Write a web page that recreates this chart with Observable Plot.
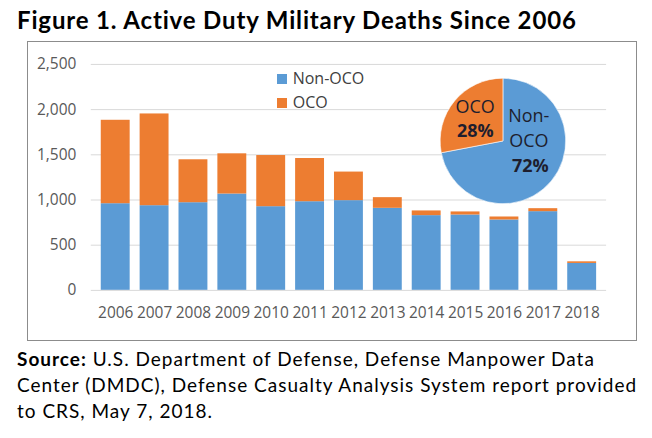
<!DOCTYPE html>
<html><head><meta charset="utf-8">
<script src="https://cdn.jsdelivr.net/npm/d3@7"></script>
<script src="https://cdn.jsdelivr.net/npm/@observablehq/plot@0.6"></script>
<style>
body{margin:0;background:#fff;}
#root{position:relative;width:652px;height:438px;overflow:hidden;}
#title{position:absolute;left:17px;top:8px;font-family:Lato,sans-serif;font-weight:700;font-size:24px;letter-spacing:0.85px;line-height:24px;color:#000;white-space:nowrap;}
#box{position:absolute;left:27px;top:41px;width:610px;height:300px;border:1px solid #8c8c8c;box-sizing:border-box;}
#box svg{position:absolute;left:-1px;top:-1px;}
.leg{position:absolute;font-family:"Open Sans",sans-serif;font-size:16px;color:#404040;line-height:16px;white-space:nowrap;}
.leg i{position:absolute;left:0;top:3px;width:10px;height:10px;}
.leg span{position:absolute;left:16px;top:-1px;}
#source{position:absolute;left:17px;top:346px;font-family:Lato,sans-serif;font-size:19px;letter-spacing:1px;line-height:26px;color:#000;white-space:nowrap;}
</style></head><body>
<div id="root">
  <div id="title">Figure 1. Active Duty Military Deaths Since 2006</div>
  <div id="box"></div>
  <div id="legend"></div>
  <div id="source"><b>Source:</b> U.S. Department of Defense, Defense Manpower Data<br>Center (DMDC), Defense Casualty Analysis System report provided<br>to CRS, May 7, 2018.</div>
</div>
<script>
const years = ["2006","2007","2008","2009","2010","2011","2012","2013","2014","2015","2016","2017","2018"];
const nonOco = [959, 937, 970, 1066, 926, 981, 993, 908, 827, 834, 779, 871, 298];
const oco    = [923, 1015, 475, 445, 566, 478, 316, 118, 52, 34, 33, 33, 18];
const seriesNames = ["Non-OCO", "OCO"];
const seriesColors = ["#5b9bd5", "#ed7d31"];
const yTicks = [0, 500, 1000, 1500, 2000, 2500];
const pieLabels = [["Non-", "OCO"], ["OCO"]];
const piePct = [72, 28];

const rows = years.flatMap((y, i) => [
  {year: y, series: seriesNames[0], value: nonOco[i]},
  {year: y, series: seriesNames[1], value: oco[i]}
]);

function pieMark(index, scales, values, dimensions) {
  const cx = 477.5, cy = 100.3, r = 63;
  const g = d3.create("svg:g").attr("transform", `translate(${cx},${cy})`);
  const arcs = d3.pie().sort(null).value(d => d)(piePct);
  const arc = d3.arc().innerRadius(0).outerRadius(r);
  g.selectAll("path").data(arcs).join("path")
    .attr("d", arc)
    .attr("fill", (d, i) => seriesColors[i])
    .attr("stroke", "#fff").attr("stroke-width", 0.6);
  const labelPos = [[26, -25.3], [-27.8, -34.6]];
  const t = g.append("g").attr("font-family", "Open Sans, sans-serif").attr("font-size", 18)
    .attr("fill", "#1e1e2e").attr("text-anchor", "middle");
  arcs.forEach((a, i) => {
    const [lx, ly] = labelPos[i];
    pieLabels[i].forEach((s, j) => {
      t.append("text").attr("x", lx).attr("y", ly + j * 24.7).attr("dy", "0.35em").text(s);
    });
    t.append("text").attr("x", lx + (i === 0 ? 1.5 : 0)).attr("y", ly + pieLabels[i].length * 24.7 + (i===0?1:0))
      .attr("dy", "0.35em").attr("font-weight", 700).text(piePct[i] + "%");
  });
  return g.node();
}

const chart = Plot.plot({
  width: 610,
  height: 300,
  marginLeft: 64,
  marginRight: 29,
  marginTop: 23,
  marginBottom: 50.3,
  style: {fontFamily: "Open Sans, sans-serif", fontSize: "15.5px", color: "#595959", background: "transparent", overflow: "visible"},
  x: {type: "band", domain: years, paddingInner: 0.264, paddingOuter: 0.132, label: null},
  y: {domain: [0, 2500], label: null},
  color: {domain: seriesNames, range: seriesColors},
  marks: [
    Plot.gridY(yTicks.slice(1), {stroke: "#d9d9d9", strokeOpacity: 1, strokeWidth: 1}),
    Plot.barY(rows, {x: "year", y: "value", fill: "series"}),
    Plot.ruleY([0], {stroke: "#d9d9d9", strokeWidth: 1}),
    Plot.axisY(yTicks, {tickFormat: d3.format(","), tickSize: 0, tickPadding: 15, label: null, fontSize: 15.5}),
    Plot.axisX({tickSize: 0, tickPadding: 17, label: null, fontSize: 15.5}),
    pieMark
  ]
});
document.getElementById("box").appendChild(chart);

const legend = document.getElementById("legend");
const legPos = [[276.7, 71], [276.7, 95]];
seriesNames.forEach((name, i) => {
  const d = document.createElement("div");
  d.className = "leg";
  d.style.left = legPos[i][0] + "px";
  d.style.top = legPos[i][1] + "px";
  d.innerHTML = `<i style="background:${seriesColors[i]}"></i><span>${name}</span>`;
  legend.appendChild(d);
});
</script>
</body></html>
